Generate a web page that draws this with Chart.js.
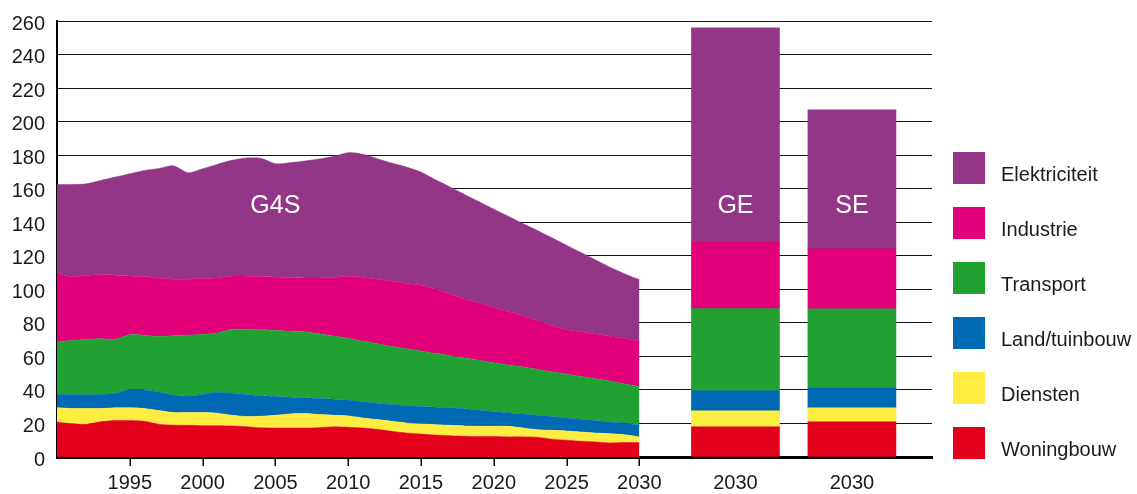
<!DOCTYPE html>
<html>
<head>
<meta charset="utf-8">
<script src="https://cdn.jsdelivr.net/npm/chart.js@4.4.1/dist/chart.umd.min.js"></script>
<style>
  html, body { margin: 0; padding: 0; background: #fff; }
  #wrap { width: 1137px; height: 494px; }
</style>
</head>
<body>
<div id="wrap"><canvas id="chart" width="1137" height="494"></canvas></div>
<script>
// years of the G4S area part
const years = [1990, 1991, 1992, 1993, 1994, 1995, 1996, 1997, 1998, 1999,
  2000, 2001, 2002, 2003, 2004, 2005, 2006, 2007, 2008, 2009,
  2010, 2011, 2012, 2013, 2014, 2015, 2016, 2017, 2018, 2019,
  2020, 2021, 2022, 2023, 2024, 2025, 2026, 2027, 2028, 2029, 2030];

const woningbouw = [20.9, 19.8, 19.5, 21.0, 21.7, 21.7, 21.3, 19.5, 19.0, 18.9,
  18.7, 18.7, 18.5, 18.1, 17.4, 17.3, 17.3, 17.3, 17.5, 18.0,
  17.7, 17.3, 16.5, 15.3, 14.3, 13.7, 13.1, 12.7, 12.4, 12.2,
  12.2, 12.0, 12.0, 11.8, 10.6, 10.0, 9.4, 9.0, 8.4, 8.6, 8.6];
const diensten = [8.4, 9.1, 9.4, 7.9, 7.6, 7.6, 7.6, 8.2, 7.5, 7.6,
  7.8, 7.4, 6.4, 6.0, 6.9, 7.6, 8.4, 8.6, 7.8, 6.9,
  6.8, 6.0, 5.8, 6.0, 6.0, 6.0, 6.2, 6.2, 6.1, 6.1,
  6.1, 6.3, 5.3, 4.5, 5.3, 5.5, 5.5, 5.3, 5.5, 4.7, 3.4];
const landTuinbouw = [8.0, 8.4, 8.2, 8.4, 8.7, 10.9, 11.1, 11.1, 10.4, 9.8,
  10.8, 12.5, 13.1, 13.2, 12.2, 11.2, 10.0, 9.4, 9.6, 9.6,
  9.5, 9.6, 9.8, 10.0, 10.4, 10.4, 10.4, 10.4, 10.2, 9.6,
  8.8, 8.0, 8.4, 8.6, 8.2, 7.8, 7.6, 7.4, 7.0, 6.7, 7.2];
const transport = [31.4, 32.2, 33.0, 33.2, 32.1, 32.7, 32.5, 33.1, 35.4, 36.4,
  35.8, 35.3, 38.1, 38.8, 39.4, 39.4, 39.4, 39.4, 38.6, 37.6,
  36.7, 36.2, 35.4, 34.6, 33.8, 33.0, 32.1, 31.1, 30.3, 29.7,
  29.1, 28.5, 27.9, 27.3, 26.7, 26.1, 25.5, 24.9, 24.3, 23.6, 22.8];
const industrie = [40.9, 38.1, 38.1, 38.3, 38.3, 35.1, 35.1, 34.9, 33.7, 33.3,
  33.3, 32.9, 31.7, 31.7, 31.7, 31.7, 31.9, 32.1, 33.3, 34.9,
  37.1, 38.1, 38.5, 38.9, 39.1, 39.3, 38.2, 36.8, 35.2, 34.2,
  33.0, 31.9, 30.5, 29.1, 27.5, 26.5, 26.7, 26.7, 26.7, 27.1, 27.3];
const elektriciteit = [52.9, 54.9, 54.7, 56.1, 58.5, 60.9, 63.3, 65.3, 67.7, 63.5,
  65.5, 67.7, 69.1, 70.5, 70.5, 67.7, 68.5, 69.7, 70.9, 72.3,
  73.7, 73.3, 71.9, 70.5, 69.3, 67.5, 65.3, 63.8, 62.4, 60.4,
  58.6, 56.9, 55.1, 53.8, 52.4, 50.4, 47.2, 44.2, 41.2, 38.5, 36.5];

// 2030 scenario bars: GE, SE
const scenarios = ['GE', 'SE'];
const scenarioYear = '2030';
const woningbouwBars = [18.0, 21.0];
const dienstenBars = [9.5, 8.3];
const landTuinbouwBars = [12.0, 11.8];
const transportBars = [49.0, 47.3];
const industrieBars = [40.0, 35.7];
const elektriciteitBars = [127.5, 83.0];

const sectors = ['Woningbouw', 'Diensten', 'Land/tuinbouw', 'Transport', 'Industrie', 'Elektriciteit'];
const areaLabel = 'G4S';
const yTicks = [0, 20, 40, 60, 80, 100, 120, 140, 160, 180, 200, 220, 240, 260];
const xTicks = [1995, 2000, 2005, 2010, 2015, 2020, 2025, 2030];

const colors = ['#e2001a', '#ffec40', '#0069b4', '#21a132', '#e2007a', '#943688'];
const FONT = "'Liberation Sans', Arial, sans-serif";

// where the scenario bars sit on the year axis (layout only)
const barX = [2036.6, 2044.6];

const areaSeries = [woningbouw, diensten, landTuinbouw, transport, industrie, elektriciteit];
const barSeries = [woningbouwBars, dienstenBars, landTuinbouwBars, transportBars, industrieBars, elektriciteitBars];

const datasets = [];
areaSeries.forEach((vals, i) => {
  datasets.push({
    type: 'line',
    label: sectors[i],
    data: years.map((yr, j) => ({ x: yr, y: vals[j] })),
    backgroundColor: colors[i],
    borderColor: colors[i],
    borderWidth: 0.5,
    pointRadius: 0,
    tension: 0.25,
    fill: i === 0 ? 'origin' : '-1'
  });
});
barSeries.forEach((vals, i) => {
  datasets.push({
    type: 'bar',
    label: sectors[i],
    data: vals.map((v, j) => ({ x: barX[j], y: v })),
    backgroundColor: colors[i],
    borderWidth: 0,
    barThickness: 88,
    stack: 'bars'
  });
});

const textPlugin = {
  id: 'textLabels',
  afterDatasetsDraw(chart) {
    const ctx = chart.ctx;
    const xs = chart.scales.x, ys = chart.scales.y;
    ctx.save();
    ctx.fillStyle = '#ffffff';
    ctx.font = '25px ' + FONT;
    ctx.textAlign = 'center';
    ctx.textBaseline = 'middle';
    ctx.fillText(areaLabel, xs.getPixelForValue(2005), ys.getPixelForValue(149.5));
    scenarios.forEach((s, i) => {
      ctx.fillText(s, xs.getPixelForValue(barX[i]), ys.getPixelForValue(149.5));
    });
    ctx.restore();
  }
};

// small tick marks under the year axis
const tickMarks = {
  id: 'tickMarks',
  afterDraw(chart) {
    const ctx = chart.ctx;
    const xs = chart.scales.x;
    const bottom = chart.chartArea.bottom;
    ctx.save();
    ctx.strokeStyle = '#000';
    ctx.lineWidth = 1.5;
    ctx.beginPath();
    xTicks.forEach(v => {
      const px = Math.round(xs.getPixelForValue(v)) + 0.25;
      ctx.moveTo(px, bottom);
      ctx.lineTo(px, bottom + 9);
    });
    ctx.stroke();
    ctx.restore();
  }
};

const legendPlugin = {
  id: 'sideLegend',
  afterDraw(chart) {
    const ctx = chart.ctx;
    ctx.save();
    ctx.font = '20px ' + FONT;
    ctx.textAlign = 'left';
    ctx.textBaseline = 'alphabetic';
    for (let k = 0; k < sectors.length; k++) {
      const i = sectors.length - 1 - k;
      const top = 152 + k * 55;
      ctx.fillStyle = colors[i];
      ctx.fillRect(953, top, 32, 32);
      ctx.fillStyle = '#1a1a1a';
      ctx.fillText(sectors[i], 1001, top + 29);
    }
    ctx.restore();
  }
};

new Chart(document.getElementById('chart'), {
  type: 'line',
  data: { datasets: datasets },
  options: {
    responsive: false,
    animation: false,
    events: [],
    layout: { padding: { left: 0, right: 205, top: 21, bottom: 0 } },
    plugins: { legend: { display: false }, tooltip: { enabled: false } },
    scales: {
      x: {
        type: 'linear',
        min: 1990,
        max: 2050.1,
        offset: false,
        z: 1,
        afterBuildTicks(scale) {
          scale.ticks = xTicks.concat(barX).map(v => ({ value: v }));
        },
        afterFit(scale) {
          scale.height = 37;
          scale.paddingLeft = 0;
          scale.paddingRight = 0;
        },
        grid: {
          offset: false,
          drawOnChartArea: false,
          drawTicks: true,
          tickLength: 8,
          color: 'rgba(0,0,0,0)'
        },
        border: { display: true, color: '#000', width: 3 },
        ticks: {
          autoSkip: false,
          maxRotation: 0,
          padding: 6,
          color: '#1a1a1a',
          font: { family: FONT, size: 20 },
          callback: (v) => (v > 2031 ? scenarioYear : String(v))
        }
      },
      y: {
        stacked: true,
        min: 0,
        max: 260,
        z: 1,
        afterBuildTicks(scale) {
          scale.ticks = yTicks.map(v => ({ value: v }));
        },
        afterFit(scale) {
          scale.width = 57;
          scale.paddingTop = 0;
          scale.paddingBottom = 0;
        },
        grid: { offset: false, color: '#111', lineWidth: 1, drawTicks: false },
        border: { display: true, color: '#000', width: 2 },
        ticks: {
          padding: 12,
          labelOffset: 3,
          color: '#1a1a1a',
          font: { family: FONT, size: 20 }
        }
      }
    }
  },
  plugins: [textPlugin, tickMarks, legendPlugin]
});
</script>
</body>
</html>
